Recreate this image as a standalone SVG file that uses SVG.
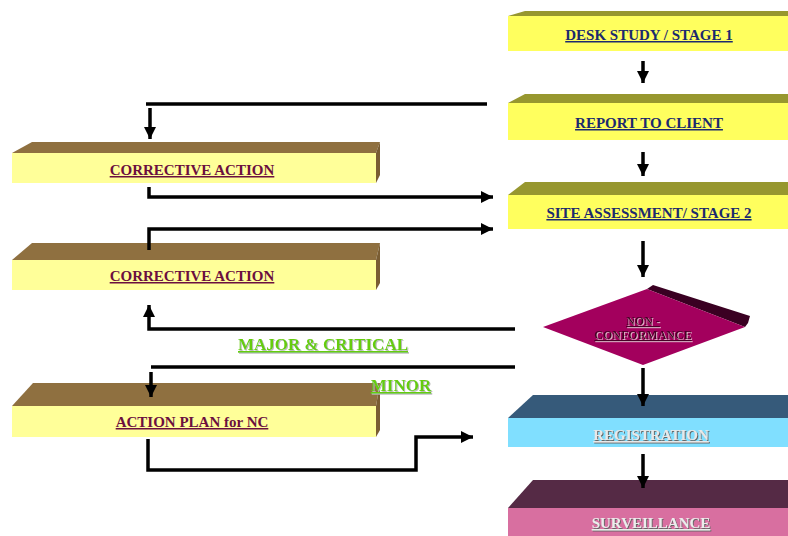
<svg xmlns="http://www.w3.org/2000/svg" width="788" height="536" viewBox="0 0 788 536">
<defs>
<marker id="ah" markerUnits="userSpaceOnUse" markerWidth="14" markerHeight="14" refX="12" refY="6" orient="auto">
<path d="M0,0 L12,6 L0,12 Z" fill="#000"/>
</marker>
<filter id="sl" x="-10%" y="-30%" width="120%" height="160%">
<feDropShadow dx="1" dy="1" stdDeviation="0.3" flood-color="#e0b0c8"/>
</filter>
<filter id="sd" x="-10%" y="-30%" width="120%" height="160%">
<feDropShadow dx="1" dy="1" stdDeviation="0.3" flood-color="#666"/>
</filter>
<filter id="sg" x="-10%" y="-30%" width="120%" height="160%">
<feDropShadow dx="1" dy="1" stdDeviation="0.4" flood-color="#bbb"/>
</filter>
</defs>
<style>
.t{font-family:"Liberation Serif","Times New Roman",serif;font-weight:bold;text-anchor:middle;text-decoration:underline}
.yf{fill:#ffff5e}.yt{fill:#97972f}
.lf{fill:#ffff99}.lt{fill:#8f7040}.ls{fill:#7a5d33}
.nv{fill:#1c2a6e;font-size:15px}
.mr{fill:#6b0f3f;font-size:15px}
.gr{fill:#66cc11;font-size:17px}
.c{fill:none;stroke:#000;stroke-width:3.5}
</style>
<rect width="788" height="536" fill="#fff"/>
<g id="desk-study">
<polygon class="yt" points="508,16 525,11 788,11 788,16"/>
<rect class="yf" x="508" y="16" width="280" height="35"/>
<text class="t nv" x="649" y="40">DESK STUDY / STAGE 1</text>
</g>
<g id="report-to-client">
<polygon class="yt" points="508,103 525,94 788,94 788,103"/>
<rect class="yf" x="508" y="103" width="280" height="37"/>
<text class="t nv" x="649" y="128">REPORT TO CLIENT</text>
</g>
<g id="site-assessment">
<polygon class="yt" points="508,195 525,182 788,182 788,195"/>
<rect class="yf" x="508" y="195" width="280" height="34"/>
<text class="t nv" x="649" y="218">SITE ASSESSMENT/ STAGE 2</text>
</g>
<g id="non-conformance">
<polygon fill="#3a0022" points="653,285 750,316 748,323 745,327 647,289"/>
<polygon fill="#a3005d" points="647,289 745,327 643,365 543,327"/>
<text class="t" x="643" y="325" filter="url(#sl)" style="font-size:12px;fill:#4a0028">NON -</text>
<text class="t" x="643" y="339" filter="url(#sl)" style="font-size:12px;fill:#4a0028">CONFORMANCE</text>
</g>
<g id="registration">
<polygon fill="#365a7a" points="508,418 533,395 788,395 788,418"/>
<rect fill="#80dfff" x="508" y="418" width="280" height="29"/>
<text class="t" x="651" y="440" filter="url(#sd)" style="font-size:15px;fill:#e8e8e8">REGISTRATION</text>
</g>
<g id="surveillance">
<polygon fill="#552a45" points="508,508 533,480 788,480 788,508"/>
<rect fill="#d86fa0" x="508" y="508" width="280" height="28"/>
<text class="t" x="651" y="528" filter="url(#sd)" style="font-size:15px;fill:#ececec">SURVEILLANCE</text>
</g>
<g id="corrective-action-1">
<polygon class="lt" points="12,153 32,142 380,142 376,153"/>
<polygon class="ls" points="376,153 380,142 380,175 376,183"/>
<rect class="lf" x="12" y="153" width="364" height="30"/>
<text class="t mr" x="192" y="175">CORRECTIVE ACTION</text>
</g>
<g id="corrective-action-2">
<polygon class="lt" points="12,260 32,243 380,243 376,260"/>
<polygon class="ls" points="376,260 380,243 380,283 376,290"/>
<rect class="lf" x="12" y="260" width="364" height="30"/>
<text class="t mr" x="192" y="281">CORRECTIVE ACTION</text>
</g>
<g id="action-plan">
<polygon class="lt" points="12,406 33,383 380,383 376,406"/>
<polygon class="ls" points="376,406 380,383 380,430 376,437"/>
<rect class="lf" x="12" y="406" width="364" height="31"/>
<text class="t mr" x="192" y="427">ACTION PLAN for NC</text>
</g>
<g id="labels">
<text class="t gr" x="323" y="350" filter="url(#sg)">MAJOR &amp; CRITICAL</text>
<text class="t gr" x="401" y="391" filter="url(#sg)">MINOR</text>
</g>
<g id="connectors">
<line class="c" x1="643" y1="61" x2="643" y2="83" marker-end="url(#ah)"/>
<line class="c" x1="643" y1="152" x2="643" y2="176" marker-end="url(#ah)"/>
<line class="c" x1="643" y1="241" x2="643" y2="277" marker-end="url(#ah)"/>
<line class="c" x1="643" y1="368" x2="643" y2="406" marker-end="url(#ah)"/>
<line class="c" x1="643" y1="454" x2="643" y2="488" marker-end="url(#ah)"/>
<line class="c" x1="487" y1="104" x2="146" y2="104"/>
<line class="c" x1="150" y1="108" x2="150" y2="139" marker-end="url(#ah)"/>
<polyline class="c" points="149,187 149,197 493,197" marker-end="url(#ah)"/>
<polyline class="c" points="149,250 149,229 493,229" marker-end="url(#ah)"/>
<polyline class="c" points="515,329 149,329 149,305" marker-end="url(#ah)"/>
<line class="c" x1="515" y1="367" x2="151" y2="367"/>
<line class="c" x1="151" y1="372" x2="151" y2="397" marker-end="url(#ah)"/>
<polyline class="c" points="148,439 148,470 416,470 416,437 473,437" marker-end="url(#ah)"/>
</g>
</svg>
